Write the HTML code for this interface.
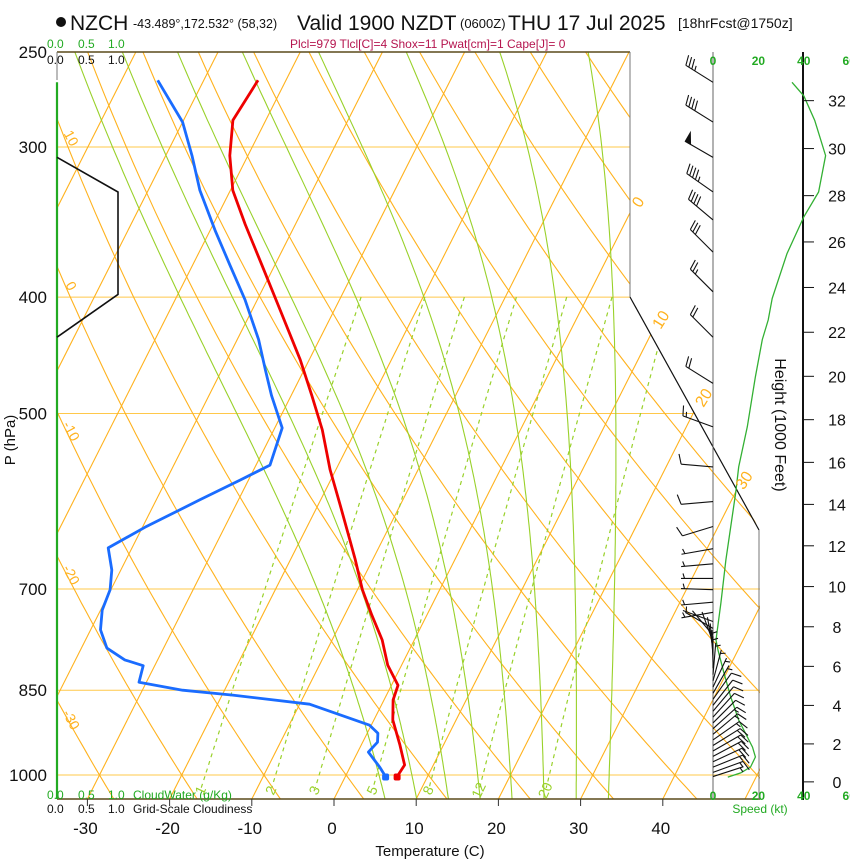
<!DOCTYPE html>
<html><head><meta charset="utf-8">
<style>
html,body{margin:0;padding:0;background:#fff;}
svg{display:block;font-family:"Liberation Sans",Arial,sans-serif;}
</style></head>
<body>
<svg id="chart" width="850" height="860" viewBox="0 0 850 860" xmlns="http://www.w3.org/2000/svg">
<defs>
<clipPath id="plotClip"><polygon points="57,52 630,52 630,297 760,530 760,799 57,799"/></clipPath>
</defs>
<g id="grid" clip-path="url(#plotClip)"></g>
<g id="frame">
<line x1="57" y1="52" x2="630" y2="52" stroke="#5a4a1a" stroke-width="1.5"/>
<line x1="57" y1="799" x2="760" y2="799" stroke="#5a4a1a" stroke-width="1.5"/>
<line x1="57" y1="52" x2="57" y2="80" stroke="#777" stroke-width="1"/>
<line x1="630" y1="52" x2="630" y2="297" stroke="#777" stroke-width="1"/>
<line x1="630" y1="297" x2="759" y2="530" stroke="#111" stroke-width="1.2"/>
<line x1="759" y1="530" x2="759" y2="799" stroke="#777" stroke-width="1"/>
<line x1="713" y1="52" x2="713" y2="799" stroke="#666" stroke-width="1"/>
<line x1="803" y1="52" x2="803" y2="800" stroke="#111" stroke-width="2"/>
</g>
<g id="profiles"></g>
<g id="labels">
<circle cx="61" cy="22" r="5" fill="#111"/>
<text x="70" y="30" font-size="21" fill="#111">NZCH</text>
<text x="133" y="28" font-size="12.5" fill="#111">-43.489°,172.532° (58,32)</text>
<text x="297" y="30" font-size="21" fill="#111">Valid 1900 NZDT</text>
<text x="460" y="28" font-size="13" fill="#111">(0600Z)</text>
<text x="508" y="30" font-size="21" fill="#111">THU 17 Jul 2025</text>
<text x="678" y="28" font-size="14" fill="#111">[18hrFcst@1750z]</text>
<text x="290" y="48" font-size="12" fill="#b5154f">Plcl=979 Tlcl[C]=4 Shox=11 Pwat[cm]=1 Cape[J]= 0</text>
<g font-size="12" fill="#22aa22"><text x="47" y="48">0.0</text><text x="78" y="48">0.5</text><text x="108" y="48">1.0</text></g>
<g font-size="12" fill="#111"><text x="47" y="64">0.0</text><text x="78" y="64">0.5</text><text x="108" y="64">1.0</text></g>
<g font-size="12" fill="#22aa22"><text x="47" y="799">0.0</text><text x="78" y="799">0.5</text><text x="108" y="799">1.0</text><text x="133" y="799">CloudWater (g/Kg)</text></g>
<g font-size="12" fill="#111"><text x="47" y="813">0.0</text><text x="78" y="813">0.5</text><text x="108" y="813">1.0</text><text x="133" y="813">Grid-Scale Cloudiness</text></g>
<text x="0" y="0" font-size="15" fill="#111" transform="translate(15,440) rotate(-90)" text-anchor="middle">P (hPa)</text>
<text x="430" y="856" font-size="15" fill="#111" text-anchor="middle">Temperature (C)</text>
<text x="0" y="0" font-size="16" fill="#111" transform="translate(775,425) rotate(90)" text-anchor="middle">Height (1000 Feet)</text>
<text x="760" y="813" font-size="12" fill="#22aa22" text-anchor="middle">Speed (kt)</text>
</g>
<script>
// ---------- data ----------
const pressureTicks = [250, 300, 400, 500, 700, 850, 1000];
const tempTicks = [-30, -20, -10, 0, 10, 20, 30, 40];
const heightTicks = [0, 2, 4, 6, 8, 10, 12, 14, 16, 18, 20, 22, 24, 26, 28, 30, 32];
const speedTicks = [0, 20, 40, 60];
const isothermLabels = [0, 10, 20, 30];
const thetaLabels = [10, 0, -10, -20, -30];
const moistThetaW = [4, 8, 12, 16, 20, 24, 28, 32];
const mixRatios = [1, 2, 3, 5, 8, 12, 20];

const tempP = [264, 285, 305, 326, 348, 376, 410, 451, 483, 516, 557, 596, 637, 662, 701, 736, 772, 810, 842, 866, 900, 944, 981, 1003];
const tempC = [-53.4, -54.0, -52.2, -49.7, -46.1, -41.6, -36.6, -31.1, -27.5, -24.1, -20.7, -17.3, -14.0, -12.1, -9.4, -6.7, -3.9, -1.7, 0.8, 1.1, 2.3, 4.7, 6.5, 6.3];

const dewP = [264, 286, 305, 326, 352, 376, 402, 434, 460, 483, 514, 552, 568, 590, 622, 647, 675, 701, 729, 757, 784, 802, 811, 837, 850, 858, 873, 909, 923, 939, 957, 985, 1003];
const dewC = [-65.6, -60.0, -56.8, -53.7, -49.4, -45.5, -41.5, -37.4, -34.7, -32.4, -29.1, -28.3, -31.0, -34.7, -39.7, -42.9, -41.1, -40.1, -39.8, -38.8, -36.9, -34.0, -31.4, -30.9, -25.1, -18.7, -8.8, -0.2, 1.3, 1.8, 1.3, 3.6, 4.9];

const cloudP = [306, 327, 398, 432];
const cloudFrac = [0, 1.0, 1.0, 0];
const cloudWaterP = [265, 1047];
const cloudWaterVal = [0, 0];

const speedP = [265, 272, 285, 305, 327, 343, 368, 401, 418, 434, 466, 513, 554, 582, 662, 719, 772, 787, 822, 861, 900, 948, 966, 985, 996, 1004];
const speedKt = [34.8, 40, 44.8, 49.6, 46.5, 40, 32.6, 26.1, 24.3, 21.7, 18.7, 15.1, 11.3, 10, 5.7, 3.5, 1.3, 2.2, 4.8, 7.8, 11.3, 17.4, 18.7, 16.5, 12.2, 6.5];

const barbP = [265, 286, 306, 327, 345, 367, 396, 432, 472, 513, 554, 592, 621, 648, 667, 686, 701, 718, 732,
  745, 755, 765, 775, 785, 795, 805, 815, 825, 835, 845, 855, 865, 875, 885, 895, 905, 915, 925, 935, 945, 955, 965, 975, 985, 995, 1003];
const barbDir = [302, 302, 300, 305, 310, 315, 315, 315, 302, 290, 275, 265, 253, 260, 265, 270, 272, 265, 260,
  290, 300, 320, 340, 350, 355, 358, 0, 5, 15, 25, 30, 35, 38, 40, 42, 45, 48, 50, 55, 58, 60, 62, 65, 68, 70, 72];
const barbKt = [35, 40, 50, 45, 40, 32, 27, 22, 18, 15, 11, 10, 8, 6, 5, 5, 4, 4, 3,
  3, 2, 2, 2, 2, 2, 3, 3, 4, 5, 6, 7, 8, 9, 10, 11, 12, 14, 15, 17, 18, 18, 19, 18, 16, 13, 7];

// ---------- axes ----------
const NS = 'http://www.w3.org/2000/svg';
function Y(p){ return 775 - 521.6*Math.log(1000/p); }
function X(T,p){ return 334 + 8.22*T + 0.505*(799 - Y(p)); }
function XB(T){ return 334 + 8.22*T; }
function cloudX(f){ return 57 + 61*f; }
function speedX(s){ return 713 + 2.27*s; }
function heightY(kft){ const m = kft*1000*0.3048; const p = 1013.25*Math.pow(1-2.25577e-5*m, 5.25588); return Y(p); }
function mk(tag, attrs, parent){ const e = document.createElementNS(NS, tag); for (const k in attrs) e.setAttribute(k, attrs[k]); parent.appendChild(e); return e; }
function pts(arr){ return arr.map(a => a[0].toFixed(1)+','+a[1].toFixed(1)).join(' '); }

const grid = document.getElementById('grid');
const prof = document.getElementById('profiles');
const labels = document.getElementById('labels');
const ORANGE = '#ffb21e', GREEN = '#99d12a';

for (const p of pressureTicks.slice(1)) {
  const l = mk('line', {x1:57, y1:Y(p), x2:760, y2:Y(p), stroke:'#ffc84a', 'stroke-width':1}, grid);
  
  
}
for (let T = -130; T <= 60; T += 10) {
  const l = mk('line', {x1:XB(T), y1:799, x2:XB(T)+0.505*747, y2:52, stroke:ORANGE, 'stroke-width':1.1}, grid);
  
  
}
for (let th = -40; th <= 200; th += 10) {
  const a = [];
  for (let p = 1050; p >= 245; p -= 10) { const T = (th+273.15)*Math.pow(p/1000, 0.2857) - 273.15; a.push([X(T,p), Y(p)]); }
  const l = mk('polyline', {points:pts(a), fill:'none', stroke:ORANGE, 'stroke-width':1.1}, grid);
  
  
}
function es(Tc){ return 6.112*Math.exp(17.67*Tc/(Tc+243.5)); }
function rsat(p,Tc){ const e = es(Tc); return 0.622*e/(p-e); }
function dTdp(p,Tc){ const T = Tc+273.15, r = rsat(p,Tc); return (287.04*T + 2.501e6*r)/(p*(1005.7 + 2.501e6*2.501e6*r*0.622/(287.04*T*T))); }
for (const tw of moistThetaW) {
  const up = [], dn = [];
  let T = tw;
  for (let p = 1000; p >= 250; p -= 5) { up.push([X(T,p), Y(p)]); const k1 = dTdp(p,T); const k2 = dTdp(p-2.5, T - 2.5*k1); T -= 5*k2; }
  T = tw;
  for (let p = 1000; p <= 1050; p += 5) { dn.unshift([X(T,p), Y(p)]); T += 5*dTdp(p,T); }
  const l = mk('polyline', {points:pts(dn.concat(up)), fill:'none', stroke:GREEN, 'stroke-width':1.1}, grid);
  
  
}
function tdFromW(w,p){ const e = w*p/(622+w); const g = Math.log(e/6.112); return 243.5*g/(17.67-g); }
for (const w of mixRatios) {
  const a = [];
  for (let p = 400; p <= 1025; p += 5) a.push([X(tdFromW(w,p),p), Y(p)]);
  const l = mk('polyline', {points:pts(a), fill:'none', stroke:GREEN, 'stroke-width':1.2, 'stroke-dasharray':'4,4'}, grid);
  
  
  const xl = X(tdFromW(w,1022),1022), yl = Y(1022);
  const t = mk('text', {x:0, y:0, 'font-size':14, fill:GREEN, transform:'translate('+(xl+3)+','+(yl+6)+') rotate(-65)', 'text-anchor':'middle'}, labels);
  t.textContent = w;
  
  
}
const isoLabelP = [332, 416, 483, 566];
isothermLabels.forEach((T, i) => {
  const p = isoLabelP[i];
  const t = mk('text', {x:0, y:0, 'font-size':16, fill:ORANGE, transform:'translate('+(X(T,p)+6)+','+(Y(p)+5)+') rotate(-58)', 'text-anchor':'middle'}, labels);
  t.textContent = T;
  
  
});
thetaLabels.forEach(th => {
  let best = null;
  for (let p = 250; p <= 1050; p += 1) { const T = (th+273.15)*Math.pow(p/1000,0.2857)-273.15; if (X(T,p) <= 57) { best = p; } }
  const y = Y(best || 300);
  const t = mk('text', {x:0, y:0, 'font-size':14, fill:ORANGE, transform:'translate(67,'+(y+22)+') rotate(62)', 'text-anchor':'middle'}, labels);
  t.textContent = th;
  
  
});

{
  const l = mk('polyline', {points:pts(cloudWaterP.map((p,i)=>[cloudX(cloudWaterVal[i]), Y(p)])), fill:'none', stroke:'#22aa22', 'stroke-width':2.2}, prof);
  
  
  const c = mk('polyline', {points:pts(cloudP.map((p,i)=>[cloudX(cloudFrac[i]), Y(p)])), fill:'none', stroke:'#111', 'stroke-width':1.6}, prof);
  
  
}
{
  const d = mk('polyline', {points:pts(dewP.map((p,i)=>[X(dewC[i],p), Y(p)])), fill:'none', stroke:'#1a6cff', 'stroke-width':2.8, 'stroke-linejoin':'round'}, prof);
  
  
  const t = mk('polyline', {points:pts(tempP.map((p,i)=>[X(tempC[i],p), Y(p)])), fill:'none', stroke:'#ee0000', 'stroke-width':2.8, 'stroke-linejoin':'round'}, prof);
  
  
  const n = dewP.length-1, m = tempP.length-1;
  const ds = mk('rect', {x:X(dewC[n],dewP[n])-3.5, y:Y(dewP[n])-3, width:7, height:7, rx:2, fill:'#1a6cff'}, prof);
  
  
  const ts = mk('rect', {x:X(tempC[m],tempP[m])-3.5, y:Y(tempP[m])-3, width:7, height:7, rx:2, fill:'#ee0000'}, prof);
  
  
}
{
  const s = mk('polyline', {points:pts(speedP.map((p,i)=>[speedX(speedKt[i]), Y(p)])), fill:'none', stroke:'#33b033', 'stroke-width':1.3}, prof);
  
  
}
barbP.forEach((p, i) => {
  const g = mk('g', {stroke:'#111', 'stroke-width':1.1, fill:'#111'}, prof);
  
  
  const bx = 713, by = Y(p), L = 32;
  const rad = barbDir[i]*Math.PI/180;
  const ux = Math.sin(rad), uy = -Math.cos(rad);
  const px = -uy, py = ux;
  const ex = bx+ux*L, ey = by+uy*L;
  mk('line', {x1:bx, y1:by, x2:ex, y2:ey}, g);
  let s = Math.round(barbKt[i]/5)*5, d = 0;
  while (s >= 50) { const a=[ex-ux*d,ey-uy*d], b=[ex-ux*(d+6),ey-uy*(d+6)], c=[a[0]+px*10,a[1]+py*10]; mk('polygon',{points:pts([a,b,c])},g); d+=7; s-=50; }
  while (s >= 10) { const a=[ex-ux*d,ey-uy*d]; mk('line',{x1:a[0],y1:a[1],x2:a[0]+px*10+ux*3,y2:a[1]+py*10+uy*3},g); d+=3.5; s-=10; }
  if (s >= 5) { if (d===0) d=3.5; const a=[ex-ux*d,ey-uy*d]; mk('line',{x1:a[0],y1:a[1],x2:a[0]+px*5+ux*1.5,y2:a[1]+py*5+uy*1.5},g); }
});

pressureTicks.forEach(p => {
  const t = mk('text', {x:47, y:Y(p)+6, 'font-size':17, fill:'#111', 'text-anchor':'end'}, labels);
  t.textContent = p;
  
  
});
tempTicks.forEach(T => {
  const l = mk('line', {x1:XB(T), y1:799, x2:XB(T), y2:806, stroke:'#333', 'stroke-width':1}, labels);
  
  
  const t = mk('text', {x:XB(T)-2, y:834, 'font-size':17, fill:'#111', 'text-anchor':'middle'}, labels);
  t.textContent = T;
  
  
});
heightTicks.forEach(h => {
  const y = heightY(h);
  const l = mk('line', {x1:803, y1:y, x2:814, y2:y, stroke:'#111', 'stroke-width':1}, labels);
  
  
  const t = mk('text', {x:837, y:y+6, 'font-size':16, fill:'#111', 'text-anchor':'middle'}, labels);
  t.textContent = h;
  
  
});
speedTicks.forEach(s => {
  [65, 800].forEach(y => {
    const t = mk('text', {x:speedX(s), y:y, 'font-size':12, 'font-weight':'bold', fill:'#22aa22', 'text-anchor':'middle'}, labels);
    t.textContent = s;
    
    
  });
});
</script>
</svg>
</body></html>
